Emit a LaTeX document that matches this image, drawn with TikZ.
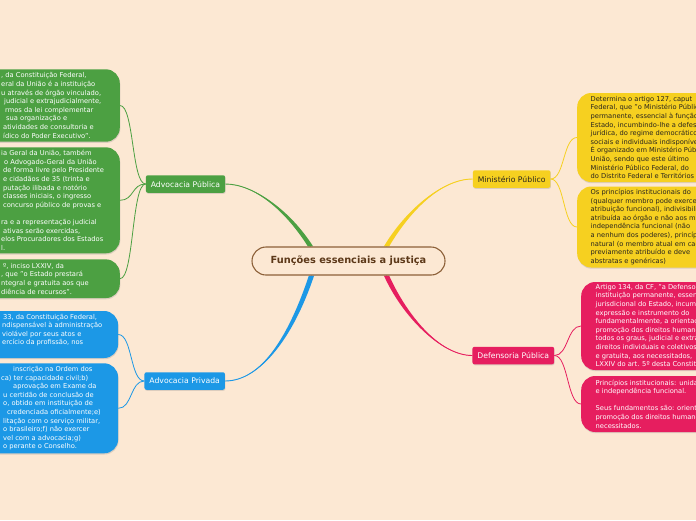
\documentclass[tikz,border=0pt]{standalone}
\usepackage{fontspec}
\setmainfont{DejaVu Sans}
\usetikzlibrary{calc, shadows, backgrounds}
\definecolor{BG}{RGB}{252,232,211}
\definecolor{GR}{RGB}{76,160,66}
\definecolor{BL}{RGB}{28,152,230}
\definecolor{YE}{RGB}{246,208,32}
\definecolor{PK}{RGB}{230,30,95}
\definecolor{BR}{RGB}{140,96,56}
\definecolor{BT}{RGB}{92,56,24}
\definecolor{DK}{RGB}{40,36,30}

\begin{document}
\begin{tikzpicture}[x=1pt, y=-1pt,
  root/.style={draw=BR, line width=1.1pt, fill=BG, rounded corners=14pt,
               minimum width=193pt, minimum height=28pt, text=BT,
               font=\fontsize{9.8}{12}\selectfont\bfseries},
  topic/.style={fill=#1, rounded corners=2pt, minimum height=17.5pt,
                inner xsep=5pt, font=\fontsize{7.7}{9}\selectfont,
                drop shadow={shadow xshift=0.5pt, shadow yshift=-1pt, opacity=0.25}},
  leaf/.style={fill=#1, rounded corners=14pt, minimum width=220pt, inner sep=0pt,
               drop shadow={shadow xshift=0.5pt, shadow yshift=-1.2pt, opacity=0.25}},
  note/.style={anchor=west, align=left, inner sep=0pt, text=#1,
               font=\fontsize{6.7}{8.6}\selectfont},
  link/.style={line width=0.8pt}
]
\useasboundingbox (0,0) rectangle (696,520);
\clip (0,0) rectangle (696,520);

% Central topic
\node[root] (ctr) at (348.5,261) {Funções essenciais a justiça};

% Main topics
\node[topic=GR, text=white] (apub) at (185.5,184) {Advocacia Pública};
\node[topic=BL, text=white] (apriv) at (184.7,381) {Advocacia Privada};
\node[topic=YE, text=DK] (mp) at (511.7,179) {Ministério Público};
\node[topic=PK, text=white] (dp) at (513.3,355.5) {Defensoria Pública};

% Note boxes on the left, cut by the page edge
\foreach \n/\col/\xe/\yc/\h in {b1/GR/120/105.5/72.4, b2/GR/120/200.3/106,
    b3/GR/120/278.7/38.7, b4/BL/118.3/334.5/47, b5/BL/118.3/408.3/90}{
  \node[leaf=\col, minimum height=\h pt, anchor=east] (\n) at (\xe,\yc) {};
}
% Note boxes on the right
\foreach \n/\col/\xw/\yc/\h in {b6/YE/577/137.5/89, b7/YE/577/227/81,
    b8/PK/581/326/88, b9/PK/581/404/56}{
  \node[leaf=\col, minimum height=\h pt, anchor=west] (\n) at (\xw,\yc) {};
}

% Texts of the notes
\node[note=white] (t1) at (1,105.5) {%
  , da Constituição Federal,\\
  eral da União é a instituição\\
  u através de órgão vinculado,\\
  \hspace*{3pt}judicial e extrajudicialmente,\\
  \hspace*{4pt}rmos da lei complementar\\
  \hspace*{5pt}sua organização e\\
  \hspace*{2pt}atividades de consultoria e\\
  \hspace*{2pt}ídico do Poder Executivo".};
\node[note=white] (t2) at (1,200.3) {%
  ia Geral da União, também\\
  \hspace*{3pt}o Advogado-Geral da União\\
  \hspace*{2pt}de forma livre pelo Presidente\\
  \hspace*{2pt}e cidadãos de 35 (trinta e\\
  \hspace*{2pt}putação ilibada e notório\\
  \hspace*{2pt}classes iniciais, o ingresso\\
  \hspace*{2pt}concurso público de provas e\\
  \mbox{}\\
  ra e a representação judicial\\
  \hspace*{2pt}ativas serão exercidas,\\
  elos Procuradores dos Estados\\
  l.};
\node[note=white] (t3) at (1,278.7) {%
  \hspace*{2pt}º, inciso LXXIV, da\\
  , que "o Estado prestará\\
  ntegral e gratuita aos que\\
  diência de recursos".};
\node[note=white] (t4) at (1,330) {%
  \hspace*{2pt}33, da Constituição Federal,\\
  \hspace*{1pt}ndispensável à administração\\
  \hspace*{1pt}violável por seus atos e\\
  \hspace*{1pt}ercício da profissão, nos};
\node[note=white] (t5) at (1,408.3) {%
  \hspace*{12pt}inscrição na Ordem dos\\
  ca) ter capacidade civil;b)\\
  \hspace*{12pt}aprovação em Exame da\\
  \hspace*{2pt}u certidão de conclusão de\\
  \hspace*{2pt}o, obtido em instituição de\\
  \hspace*{6pt}credenciada oficialmente;e)\\
  \hspace*{2pt}litação com o serviço militar,\\
  \hspace*{2pt}o brasileiro;f) não exercer\\
  \hspace*{2pt}vel com a advocacia;g)\\
  \hspace*{2pt}o perante o Conselho.};
\node[note=DK] (t6) at (590.5,137.5) {%
  Determina o artigo 127, caput\\
  Federal, que "o Ministério Público\\
  permanente, essencial à função\\
  Estado, incumbindo-lhe a defesa\\
  jurídica, do regime democrático\\
  sociais e individuais indisponíveis\\
  É organizado em Ministério Público\\
  União, sendo que este último\\
  Ministério Público Federal, do\\
  do Distrito Federal e Territórios};
\node[note=DK] (t7) at (590.5,227) {%
  Os princípios institucionais do\\
  (qualquer membro pode exercer\\
  atribuição funcional), indivisibilidade\\
  atribuída ao órgão e não aos membros\\
  independência funcional (não\\
  a nenhum dos poderes), princípio\\
  natural (o membro atual em cada\\
  previamente atribuído e deve\\
  abstratas e genéricas)};
\node[note=white] (t8) at (595.5,326) {%
  Artigo 134, da CF, "a Defensoria\\
  instituição permanente, essencial\\
  jurisdicional do Estado, incumbindo-lhe\\
  expressão e instrumento do\\
  fundamentalmente, a orientação\\
  promoção dos direitos humanos\\
  todos os graus, judicial e extrajudicial\\
  direitos individuais e coletivos\\
  e gratuita, aos necessitados,\\
  LXXIV do art. 5º desta Constituição};
\node[note=white] (t9) at (595.5,404) {%
  Princípios institucionais: unidade\\
  e independência funcional.\\
  \mbox{}\\
  Seus fundamentos são: orientação\\
  promoção dos direitos humanos\\
  necessitados.};

\begin{scope}[on background layer]
  \fill[BG] (0,0) rectangle (696,520);
  % Tapered main branches
  \coordinate (gA) at ($(ctr.north)+(-38,0)$);
  \coordinate (yA) at ($(ctr.north)+(38,0)$);
  \coordinate (bA) at ($(ctr.south)+(-37,0)$);
  \coordinate (pA) at ($(ctr.south)+(38,0)$);
  \foreach \s/\e/\dx/\dy/\ex/\col in {gA/apub.east/-22/-35/29/GR,
      yA/mp.west/20/-34/-32/YE, pA/dp.west/18/40/-32/PK, bA/apriv.east/-20/60/36/BL}{
    \fill[\col] ($(\s)+(-2.6,0)$) .. controls +(\dx,\dy) and +(\ex,0) .. (\e)
      .. controls +(\ex,0) and +(\dx,\dy) .. ($(\s)+(2.6,0)$) -- cycle;
    \draw[\col, line width=0.9pt] (\s) .. controls +(\dx,\dy) and +(\ex,0) .. (\e);
  }
  % Thin links to the notes
  \foreach \n in {b1,b2,b3}
    \draw[link, GR] (apub.west) .. controls +(-14,0) and +(14,0) .. (\n.east);
  \foreach \n in {b4,b5}
    \draw[link, BL] (apriv.west) .. controls +(-14,0) and +(14,0) .. (\n.east);
  \foreach \n in {b6,b7}
    \draw[link, YE] (mp.east) .. controls +(14,0) and +(-14,0) .. (\n.west);
  \foreach \n in {b8,b9}
    \draw[link, PK] (dp.east) .. controls +(14,0) and +(-14,0) .. (\n.west);
\end{scope}
\end{tikzpicture}
\end{document}
